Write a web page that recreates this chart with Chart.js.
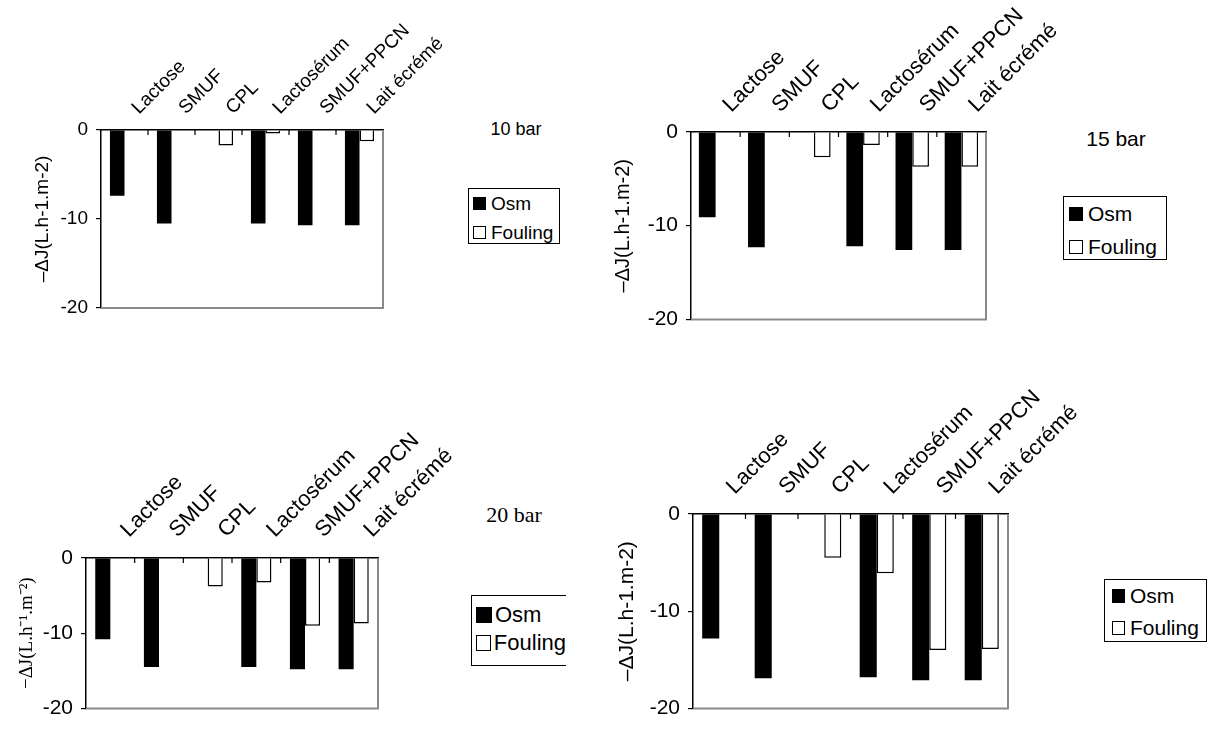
<!DOCTYPE html>
<html>
<head>
<meta charset="utf-8">
<script src="https://cdn.jsdelivr.net/npm/chart.js@4.4.1/dist/chart.umd.min.js"></script>
<style>
  body { margin: 0; background: #fff; width: 1211px; height: 729px; position: relative; overflow: hidden;
         font-family: Arial, "Liberation Sans", sans-serif; color: #000; }
  canvas { position: absolute; }
  .press { position: absolute; transform: translate(-50%, -50%); white-space: nowrap; line-height: 1; }
  .press.sans { font-family: Arial, "Liberation Sans", sans-serif; }
  .press.serif { font-family: "Times New Roman", "Liberation Serif", serif; }
  .legend { position: absolute; border: 1px solid #000; background: #fff; box-sizing: border-box; z-index: 2;
            font-family: Arial, "Liberation Sans", sans-serif; }
  .legend .item { display: flex; align-items: center; white-space: nowrap; }
  .legend .sw { display: inline-block; box-sizing: border-box; border: 1.5px solid #000; }
</style>
</head>
<body>
<canvas id="c10"></canvas>
<canvas id="c15"></canvas>
<canvas id="c20"></canvas>
<canvas id="c25"></canvas>

<script>
// ── données ──────────────────────────────
const produits = ['Lactose', 'SMUF', 'CPL', 'Lactosérum', 'SMUF+PPCN', 'Lait écrémé'];
const series = ['Osm', 'Fouling'];
const pressions = ['10 bar', '15 bar', '20 bar', '25 bar'];

const osm10  = [-7.4, -10.5, null, -10.5, -10.7, -10.7];
const foul10 = [null, null, -1.75, -0.4, null, -1.25];

const osm15  = [-9.1, -12.3, null, -12.2, -12.6, -12.6];
const foul15 = [null, null, -2.7, -1.4, -3.7, -3.7];

const osm20  = [-10.8, -14.5, null, -14.5, -14.8, -14.8];
const foul20 = [null, null, -3.8, -3.25, -9.0, -8.7];

const osm25  = [-12.8, -16.9, null, -16.8, -17.1, -17.1];
const foul25 = [null, null, -4.5, -6.1, -14.0, -13.9];

const yTicks = [-20, -10, 0];

const SANS = 'Arial, "Liberation Sans", sans-serif';
const SERIF = '"Times New Roman", "Liberation Serif", serif';

// ── mise en page des 4 graphes ───────────
const PANELS = [
  { id: 'c10', osm: osm10, foul: foul10, press: pressions[0],
    box: { x: 0, y: 0, w: 460, h: 330 }, area: { l: 101, t: 130, r: 383, b: 308 },
    cat: 0.62, tickFont: 19, labFont: 19, pad: 11, labShift: 27,
    title: '–ΔJ(L.h-1.m-2)', titleFont: { family: SANS, size: 19 }, titleX: 43,
    pressPos: { x: 516, y: 129, cls: 'sans', size: 18 },
    legend: { x: 468, y: 188, w: 92, h: 56, sw: 13, inset: 5, gap: 5, row: 29, top: 0, size: 19 } },
  { id: 'c15', osm: osm15, foul: foul15, press: pressions[1],
    box: { x: 600, y: 0, w: 480, h: 340 }, area: { l: 691, t: 132, r: 986, b: 320 },
    cat: 0.68, tickFont: 21, labFont: 22, pad: 14, labShift: 30,
    title: '–ΔJ(L.h-1.m-2)', titleFont: { family: SANS, size: 20 }, titleX: 623,
    pressPos: { x: 1116, y: 138, cls: 'sans', size: 21 },
    legend: { x: 1063, y: 196, w: 104, h: 64, sw: 14, inset: 6, gap: 5, row: 33, top: 0, size: 21 } },
  { id: 'c20', osm: osm20, foul: foul20, press: pressions[2],
    box: { x: 0, y: 360, w: 460, h: 369 }, area: { l: 86, t: 558, r: 378, b: 715 },
    cat: 0.62, tickFont: 21, labFont: 22, pad: 15, labShift: 33,
    title: '−ΔJ(L.h⁻¹.m⁻²)', titleFont: { family: SERIF, size: 19 }, titleX: 27,
    pressPos: { x: 514, y: 515, cls: 'serif', size: 22 },
    legend: { x: 471, y: 595, w: 95, h: 71, sw: 16, inset: 5, gap: 3, row: 28, top: 5, size: 22, open: true } },
  { id: 'c25', osm: osm25, foul: foul25, press: pressions[3],
    box: { x: 600, y: 360, w: 500, h: 369 }, area: { l: 693, t: 514, r: 1008, b: 714 },
    cat: 0.65, tickFont: 21, labFont: 22, pad: 14, labShift: 30,
    title: '–ΔJ(L.h-1.m-2)', titleFont: { family: SANS, size: 21 }, titleX: 627,
    pressPos: { x: 1165, y: 598, cls: 'sans', size: 18 },
    legend: { x: 1104, y: 579, w: 103, h: 63, sw: 13.5, inset: 7.5, gap: 5, row: 32, top: 0, size: 21 } }
];

// cadre gris à droite/en bas + petites graduations vers l'intérieur sur l'axe du haut
const framePlugin = {
  id: 'frame',
  afterDraw(chart) {
    const { ctx, chartArea: a, scales: { x } } = chart;
    ctx.save();
    ctx.strokeStyle = '#8a8a8a';
    ctx.lineWidth = 2;
    ctx.beginPath();
    ctx.moveTo(a.right, a.top);
    ctx.lineTo(a.right, a.bottom);
    ctx.lineTo(a.left, a.bottom);
    ctx.stroke();

    ctx.strokeStyle = '#000';
    ctx.lineWidth = 1.2;
    ctx.beginPath();
    for (let i = 1; i < x.ticks.length; i++) {
      const px = (x.getPixelForTick(i - 1) + x.getPixelForTick(i)) / 2;
      ctx.moveTo(px, a.top);
      ctx.lineTo(px, a.top + 5);
    }
    ctx.stroke();
    ctx.restore();
  }
};

function renderPanel(p) {
  const cv = document.getElementById(p.id);
  cv.style.left = p.box.x + 'px';
  cv.style.top = p.box.y + 'px';
  cv.style.width = p.box.w + 'px';
  cv.style.height = p.box.h + 'px';
  cv.width = p.box.w;
  cv.height = p.box.h;

  const yWidth = p.area.l - p.box.x;
  const xHeight = p.area.t - p.box.y;
  const lineH = p.titleFont.size * 1.2;

  const chart = new Chart(cv.getContext('2d'), {
    type: 'bar',
    data: {
      labels: produits,
      datasets: [
        { label: series[0], data: p.osm, backgroundColor: '#000', borderWidth: 0 },
        { label: series[1], data: p.foul, backgroundColor: '#fff', borderColor: '#000', borderWidth: 1.5 }
      ]
    },
    options: {
      responsive: false,
      animation: false,
      devicePixelRatio: 1,
      layout: { padding: { left: 0, top: 0, right: p.box.x + p.box.w - p.area.r, bottom: p.box.y + p.box.h - p.area.b } },
      datasets: { bar: { categoryPercentage: p.cat, barPercentage: 1 } },
      plugins: { legend: { display: false }, tooltip: { enabled: false } },
      scales: {
        x: {
          position: 'top',
          z: 1,
          grid: { drawOnChartArea: false, drawTicks: false },
          border: { color: '#000', width: 1.5 },
          ticks: {
            autoSkip: false, minRotation: 45, maxRotation: 45, padding: p.pad, labelOffset: p.labShift,
            color: '#000', font: { family: SANS, size: p.labFont }
          },
          afterFit(s) { s.height = xHeight; }
        },
        y: {
          min: yTicks[0], max: yTicks[yTicks.length - 1],
          z: 1,
          afterBuildTicks(s) { s.ticks = yTicks.map(v => ({ value: v })); },
          grid: { drawOnChartArea: false, tickLength: 5, color: '#000', lineWidth: 1.2 },
          border: { color: '#000', width: 1.5 },
          ticks: { color: '#000', padding: 8, font: { family: SANS, size: p.tickFont } },
          title: {
            display: true, text: p.title, color: '#000', font: p.titleFont,
            padding: { top: p.titleX - p.box.x - lineH / 2, bottom: 0 }
          },
          afterFit(s) { s.width = yWidth; }
        }
      }
    },
    plugins: [framePlugin]
  });

  // pression
  const lab = document.createElement('div');
  lab.className = 'press ' + p.pressPos.cls;
  lab.textContent = p.press;
  lab.style.left = p.pressPos.x + 'px';
  lab.style.top = p.pressPos.y + 'px';
  lab.style.fontSize = p.pressPos.size + 'px';
  document.body.appendChild(lab);

  // légende
  const L = p.legend;
  const box = document.createElement('div');
  box.className = 'legend';
  Object.assign(box.style, {
    left: L.x + 'px', top: L.y + 'px', width: L.w + 'px', height: L.h + 'px',
    paddingLeft: (L.inset - 1) + 'px', paddingTop: L.top + 'px', fontSize: L.size + 'px'
  });
  if (L.open) box.style.borderRight = 'none';
  chart.data.datasets.forEach(ds => {
    const item = document.createElement('div');
    item.className = 'item';
    item.style.height = L.row + 'px';
    const sw = document.createElement('span');
    sw.className = 'sw';
    sw.style.width = L.sw + 'px';
    sw.style.height = L.sw + 'px';
    sw.style.background = ds.backgroundColor;
    sw.style.marginRight = L.gap + 'px';
    const t = document.createElement('span');
    t.textContent = ds.label;
    item.appendChild(sw);
    item.appendChild(t);
    box.appendChild(item);
  });
  document.body.appendChild(box);
}

PANELS.forEach(renderPanel);
</script>
</body>
</html>
